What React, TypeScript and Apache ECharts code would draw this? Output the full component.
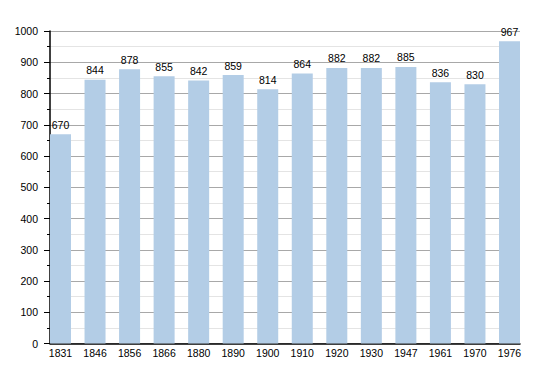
import React, { useEffect, useRef } from "react";
import * as echarts from "echarts";

const years = ["1831", "1846", "1856", "1866", "1880", "1890", "1900", "1910", "1920", "1930", "1947", "1961", "1970", "1976"];
const population = [670, 844, 878, 855, 842, 859, 814, 864, 882, 882, 885, 836, 830, 967];
const yTicks = [0, 100, 200, 300, 400, 500, 600, 700, 800, 900, 1000];

export default function App() {
  const ref = useRef<HTMLDivElement>(null);
  useEffect(() => {
    if (!ref.current) return;
    const chart = echarts.init(ref.current, undefined, { renderer: "svg" });
    const barW = 21;
    const plotW = 470;
    const n = years.length;
    const pitch = (plotW - barW) / (n - 1);
    const half = barW / 2 / pitch;
    const gap = pitch - barW;
    const font = { color: "#000", fontFamily: "Liberation Sans", fontSize: 10.5 };
    chart.setOption({
      animation: false,
      grid: [
        { left: 50, top: 31, width: plotW, height: 312.5, containLabel: false },
        { left: 50 - gap / 2, top: 31, width: pitch * n, height: 312.5, containLabel: false },
      ],
      xAxis: [
        {
          type: "value",
          gridIndex: 0,
          min: -half,
          max: n - 1 + half,
          axisLine: { show: true, onZero: false, lineStyle: { color: "#000", width: 1.5 } },
          axisTick: { show: false },
          splitLine: { show: false },
          axisLabel: { show: false },
        },
        {
          type: "category",
          gridIndex: 1,
          data: years,
          boundaryGap: true,
          axisLine: { show: false },
          axisTick: { show: false },
          splitLine: { show: false },
          axisLabel: { ...font, margin: 4, interval: 0 },
        },
      ],
      yAxis: [
        {
          type: "value",
          gridIndex: 0,
          min: yTicks[0],
          max: yTicks[yTicks.length - 1],
          interval: 100,
          axisLine: { show: true, onZero: false, lineStyle: { color: "#000", width: 1.5 } },
          axisTick: { show: true, length: 6, lineStyle: { color: "#000" } },
          minorTick: { show: true, splitNumber: 2, length: 3, lineStyle: { color: "#000" } },
          splitLine: { show: true, lineStyle: { color: "#a8a8a8", width: 1 } },
          minorSplitLine: { show: true, lineStyle: { color: "#e4e4e4", width: 1 } },
          axisLabel: { ...font, margin: 12, formatter: (v: number) => String(v) },
        },
        { type: "value", gridIndex: 1, show: false, min: 0, max: 1000 },
      ],
      series: [
        {
          type: "bar",
          xAxisIndex: 0,
          yAxisIndex: 0,
          data: population.map((v, i) => [i, v]),
          barWidth: barW,
          itemStyle: { color: "#b3cde6" },
          label: {
            show: true,
            position: "top",
            distance: 4,
            ...font,
            formatter: (p: any) => String(p.value[1]),
          },
        },
      ],
    });
    return () => chart.dispose();
  }, []);
  return <div ref={ref} style={{ width: 550, height: 373, margin: -8 }} />;
}
